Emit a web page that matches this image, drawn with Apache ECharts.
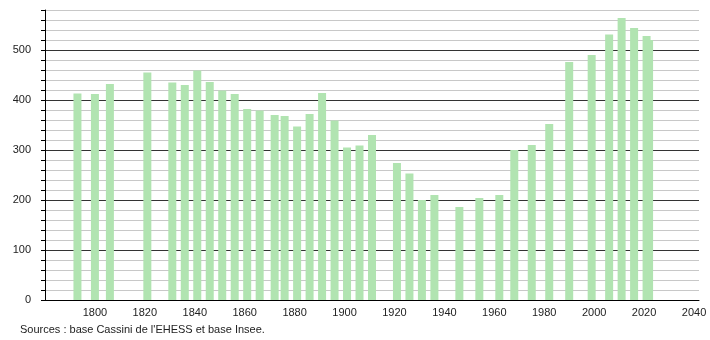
<!DOCTYPE html>
<html><head><meta charset="utf-8">
<script src="https://cdn.jsdelivr.net/npm/echarts@6/dist/echarts.min.js"></script>
<style>html,body{margin:0;padding:0;background:#fff}#c{width:710px;height:340px}</style>
</head><body><div id="c"></div>
<script>
var years = [1793,1800,1806,1821,1831,1836,1841,1846,1851,1856,1861,1866,1872,1876,1881,1886,1891,1896,1901,1906,1911,1921,1926,1931,1936,1946,1954,1962,1968,1975,1982,1990,1999,2006,2011,2016,2022,2021];
var population = [413,412,432,455,435,430,459,436,419,412,382,379,370,368,347,372,414,359,305,309,330,274,253,200,210,186,204,210,300,310,352,476,490,531,564,544,520,528];
var xTicks = [1800,1820,1840,1860,1880,1900,1920,1940,1960,1980,2000,2020,2040];
var yTicks = [0,100,200,300,400,500];
var sourceText = "Sources : base Cassini de l'EHESS et base Insee.";

var chart = echarts.init(document.getElementById('c'), null, {renderer:'canvas'});
var gridColors = ['#333333','#c8c8c8','#c8c8c8','#c8c8c8','#c8c8c8'];
chart.setOption({
  animation:false,
  backgroundColor:'#ffffff',
  textStyle:{fontFamily:'Liberation Sans, Arial, sans-serif'},
  grid:{left:45,right:11,top:10,bottom:40,containLabel:false},
  xAxis:{
    type:'value', min:1780, max:2042, interval:20,
    axisLine:{show:true,lineStyle:{color:'#000',width:1}},
    axisTick:{show:false},
    splitLine:{show:false},
    axisLabel:{color:'#222',fontSize:11,margin:7,showMinLabel:false,showMaxLabel:false,
      formatter:function(v){return xTicks.indexOf(v)>=0?String(v):'';}}
  },
  yAxis:{
    type:'value', min:0, max:580, interval:20,
    axisLine:{show:true,lineStyle:{color:'#000',width:1}},
    axisTick:{show:true,length:4,lineStyle:{color:'#000'}},
    splitLine:{show:true,lineStyle:{color:gridColors,width:1}},
    axisLabel:{color:'#222',fontSize:11,margin:14,
      formatter:function(v){return yTicks.indexOf(v)>=0?String(v):'';}}
  },
  graphic:[{type:'text',left:20,top:324,style:{text:sourceText,fill:'#222',font:'11px Liberation Sans, Arial, sans-serif'}}],
  series:[{
    type:'bar', barWidth:8,
    itemStyle:{color:'#b1e4b1'},
    data: years.map(function(y,i){return [y,population[i]];})
  }]
});
</script></body></html>
